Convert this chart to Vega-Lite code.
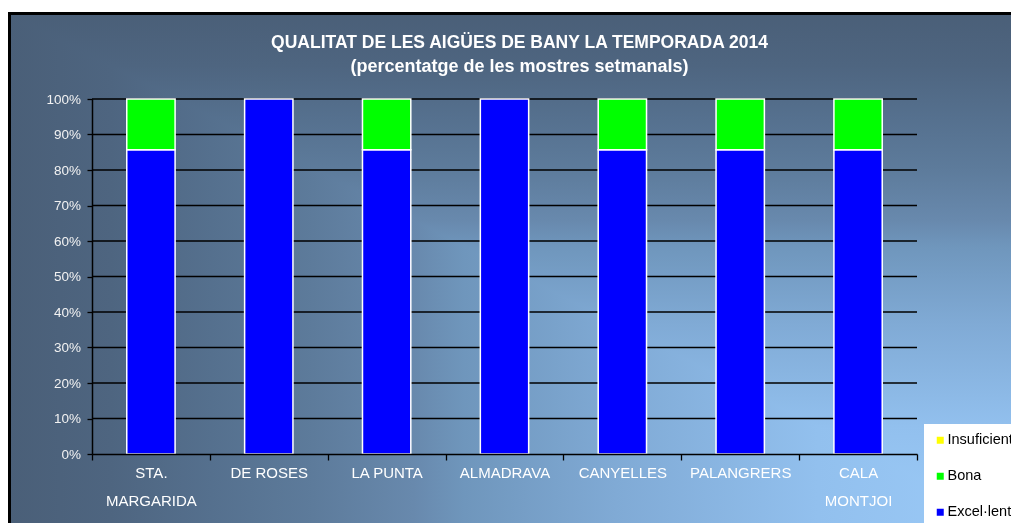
{
  "$schema": "https://vega.github.io/schema/vega-lite/v6.json",
  "autosize": {"type": "none"},
  "width": 825,
  "height": 355,
  "padding": {"left": 92, "top": 99, "right": 94, "bottom": 69},
  "background": "#ffffff",
  "title": {
    "text": "QUALITAT DE LES AIGÜES DE BANY LA TEMPORADA 2014",
    "subtitle": "(percentatge de les mostres setmanals)",
    "anchor": "middle",
    "frame": "group",
    "dx": 15,
    "offset": -64,
    "font": "Liberation Sans",
    "fontSize": 17.5,
    "fontWeight": "bold",
    "color": "#ffffff",
    "subtitleFont": "Liberation Sans",
    "subtitleFontSize": 18,
    "subtitleFontWeight": "bold",
    "subtitleColor": "#ffffff",
    "subtitlePadding": 7
  },
  "data": {
    "values": [
      {"platja": "STA. MARGARIDA", "nivell": "Excel·lent", "valor": 0.857},
      {"platja": "STA. MARGARIDA", "nivell": "Bona", "valor": 0.143},
      {"platja": "DE ROSES", "nivell": "Excel·lent", "valor": 1.0},
      {"platja": "LA PUNTA", "nivell": "Excel·lent", "valor": 0.857},
      {"platja": "LA PUNTA", "nivell": "Bona", "valor": 0.143},
      {"platja": "ALMADRAVA", "nivell": "Excel·lent", "valor": 1.0},
      {"platja": "CANYELLES", "nivell": "Excel·lent", "valor": 0.857},
      {"platja": "CANYELLES", "nivell": "Bona", "valor": 0.143},
      {"platja": "PALANGRERS", "nivell": "Excel·lent", "valor": 0.857},
      {"platja": "PALANGRERS", "nivell": "Bona", "valor": 0.143},
      {"platja": "CALA MONTJOI", "nivell": "Excel·lent", "valor": 0.857},
      {"platja": "CALA MONTJOI", "nivell": "Bona", "valor": 0.143}
    ]
  },
  "layer": [
    {
      "data": {"values": [{}]},
      "mark": {
        "type": "rect",
        "color": {
          "gradient": "linear", "x1": 0, "y1": 0, "x2": 1, "y2": 0,
          "stops": [
            {"offset": 0, "color": "#4a5f78"},
            {"offset": 0.1, "color": "#4e6580"},
            {"offset": 0.2, "color": "#55708e"},
            {"offset": 0.3, "color": "#5d7b9b"},
            {"offset": 0.4, "color": "#6889ad"},
            {"offset": 0.45, "color": "#6f96bc"},
            {"offset": 0.6, "color": "#80aad5"},
            {"offset": 0.8, "color": "#92c0ee"},
            {"offset": 1, "color": "#9ccbf8"}
          ]
        }
      },
      "encoding": {
        "x": {"datum": -0.1, "type": "quantitative", "scale": {"domain": [0, 1], "nice": false}, "axis": null},
        "x2": {"datum": 1.1248},
        "y": {"datum": 1.2408, "type": "quantitative", "scale": {"domain": [0, 1], "nice": false}, "axis": null},
        "y2": {"datum": -0.2141}
      }
    },
    {
      "data": {"values": [{}]},
      "mark": {
        "type": "rect",
        "blend": "darken",
        "stroke": "#000000",
        "strokeWidth": 3,
        "color": {
          "gradient": "linear", "x1": 0, "y1": 0, "x2": 0, "y2": 1,
          "stops": [
            {"offset": 0, "color": "#4a5f78"},
            {"offset": 0.1, "color": "#4e6580"},
            {"offset": 0.2, "color": "#55708e"},
            {"offset": 0.3, "color": "#5d7b9b"},
            {"offset": 0.4, "color": "#6889ad"},
            {"offset": 0.45, "color": "#6f96bc"},
            {"offset": 0.6, "color": "#80aad5"},
            {"offset": 0.8, "color": "#92c0ee"},
            {"offset": 1, "color": "#9ccbf8"}
          ]
        }
      },
      "encoding": {
        "x": {"datum": -0.1, "type": "quantitative", "scale": {"domain": [0, 1], "nice": false}, "axis": null},
        "x2": {"datum": 1.1248},
        "y": {"datum": 1.2408, "type": "quantitative", "scale": {"domain": [0, 1], "nice": false}, "axis": null},
        "y2": {"datum": -0.2141}
      }
    },
    {
      "data": {"values": [{"v": 0.1}, {"v": 0.2}, {"v": 0.3}, {"v": 0.4}, {"v": 0.5}, {"v": 0.6}, {"v": 0.7}, {"v": 0.8}, {"v": 0.9}, {"v": 1.0}]},
      "mark": {"type": "rule", "color": "#000000", "strokeWidth": 1.3},
      "encoding": {
        "y": {"field": "v", "type": "quantitative", "scale": {"domain": [0, 1], "nice": false}, "axis": null}
      }
    },
    {
      "mark": {"type": "bar", "width": {"band": 0.41}, "stroke": "#ffffff", "strokeWidth": 1.5},
      "encoding": {
        "x": {
          "field": "platja", "type": "nominal", "sort": null,
          "scale": {"paddingInner": 0, "paddingOuter": 0},
          "axis": {
            "title": null,
            "labelAngle": 0,
            "tickBand": "extent",
            "tickSize": 6,
            "tickColor": "#000000",
            "tickWidth": 1.3,
            "domainColor": "#000000",
            "domainWidth": 1.5,
            "labelColor": "#ffffff",
            "labelFont": "Liberation Sans",
            "labelFontSize": 15,
            "labelLineHeight": 28,
            "labelBaseline": "middle",
            "labelPadding": 12,
            "zindex": 1,
            "labelExpr": "datum.label == 'STA. MARGARIDA' ? ['STA.', 'MARGARIDA'] : datum.label == 'CALA MONTJOI' ? ['CALA', 'MONTJOI'] : datum.label"
          }
        },
        "y": {
          "field": "valor", "type": "quantitative", "stack": "zero",
          "scale": {"domain": [0, 1], "nice": false},
          "axis": {
            "title": null,
            "values": [0, 0.1, 0.2, 0.3, 0.4, 0.5, 0.6, 0.7, 0.8, 0.9, 1.0],
            "format": ".0%",
            "grid": false,
            "tickSize": 5,
            "tickColor": "#000000",
            "tickWidth": 1.3,
            "domainColor": "#000000",
            "domainWidth": 1.5,
            "labelColor": "#f2f2f2",
            "labelFont": "Liberation Sans",
            "labelFontSize": 13.5,
            "labelPadding": 6.5,
            "zindex": 1
          }
        },
        "color": {
          "field": "nivell", "type": "nominal",
          "scale": {"domain": ["Insuficient", "Bona", "Excel·lent"], "range": ["#ffff00", "#00ff00", "#0000ff"]},
          "legend": {
            "title": null,
            "orient": "none",
            "legendX": 832,
            "legendY": 325,
            "fillColor": "#ffffff",
            "padding": 9,
            "symbolType": "square",
            "symbolSize": 49,
            "symbolStrokeWidth": 0,
            "labelFont": "Liberation Sans",
            "labelFontSize": 14.5,
            "labelColor": "#000000",
            "labelOffset": 0,
            "rowPadding": 21
          }
        },
        "order": {"field": "nivell", "sort": "descending"}
      }
    }
  ],
  "resolve": {"scale": {"x": "independent", "y": "independent"}},
  "config": {
    "view": {"stroke": null}
  }
}
